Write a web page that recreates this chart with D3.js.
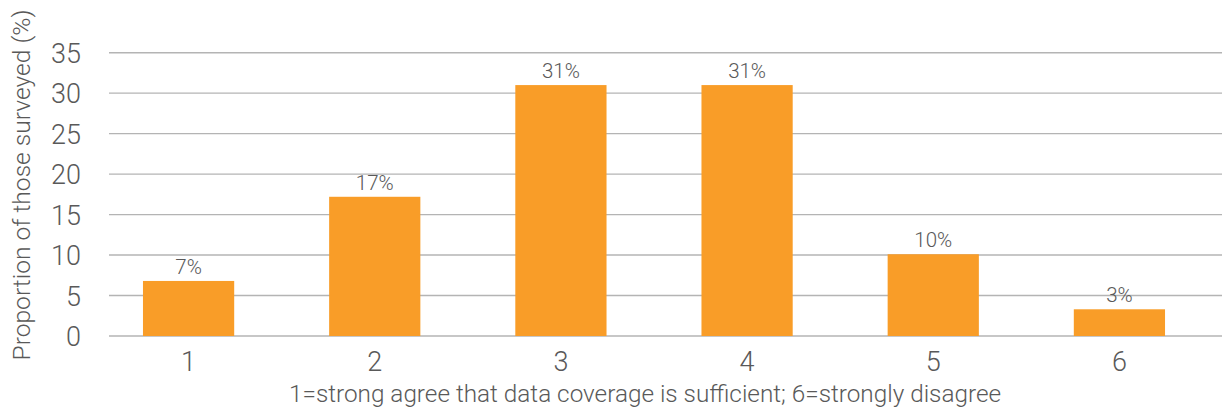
<!DOCTYPE html>
<html>
<head>
<meta charset="utf-8">
<script src="https://cdn.jsdelivr.net/npm/d3@7"></script>
<style>
  html, body { margin: 0; padding: 0; background: #fff; }
  svg { display: block; }
  text { font-family: Roboto, "Noto Sans", sans-serif; font-weight: 300; fill: #595959; }
</style>
</head>
<body>
<svg id="chart" width="1222" height="409"></svg>
<script>
// Survey responses on a 1–6 agreement scale
const categories = ["1", "2", "3", "4", "5", "6"];
const shares = [6.8, 17.2, 31.0, 31.0, 10.1, 3.3];
const yTicks = [0, 5, 10, 15, 20, 25, 30, 35];
const yTitle = "Proportion of those surveyed (%)";
const xTitle = "1=strong agree that data coverage is sufficient; 6=strongly disagree";

const svg = d3.select("#chart");
const W = 1222, H = 409;

const y = d3.scaleLinear().domain([0, 35]).range([336, 52.7]);
const x = d3.scaleBand().domain(categories).range([95.5, 1212.5]).paddingInner(0.51).paddingOuter(0.255);

// horizontal gridlines
svg.append("g")
  .selectAll("line")
  .data(yTicks)
  .join("line")
  .attr("x1", 109).attr("x2", W)
  .attr("y1", d => y(d)).attr("y2", d => y(d))
  .attr("stroke", "#b4b4b4").attr("stroke-width", 1.4);

// y tick labels
const yAxis = d3.axisLeft(y).tickValues(yTicks).tickSize(0).tickPadding(0);
svg.append("g")
  .attr("transform", "translate(81,0)")
  .call(yAxis)
  .call(g => g.select(".domain").remove())
  .selectAll("text")
  .attr("font-size", 27)
  .attr("dy", "0.36em")
  .style("font-family", "Roboto, sans-serif")
  .style("font-weight", 300)
  .attr("fill", "#595959");

// x tick labels
const xAxis = d3.axisBottom(x).tickSize(0).tickPadding(0);
svg.append("g")
  .attr("transform", "translate(0,371)")
  .call(xAxis)
  .call(g => g.select(".domain").remove())
  .selectAll("text")
  .attr("font-size", 27)
  .attr("dy", 0)
  .style("font-family", "Roboto, sans-serif")
  .style("font-weight", 300)
  .attr("fill", "#595959");

// bars
svg.append("g")
  .selectAll("rect")
  .data(shares)
  .join("rect")
  .attr("x", (d, i) => x(categories[i]))
  .attr("width", x.bandwidth())
  .attr("y", d => y(d))
  .attr("height", d => y(0) - y(d))
  .attr("fill", "#F99D28");

// value labels
svg.append("g")
  .selectAll("text")
  .data(shares)
  .join("text")
  .attr("x", (d, i) => x(categories[i]) + x.bandwidth() / 2)
  .attr("y", d => y(d) - 7)
  .attr("text-anchor", "middle")
  .attr("font-size", 20.5)
  .attr("fill", "#666666")
  .text(d => d3.format(".0f")(d) + "%");

// axis titles
svg.append("text")
  .attr("x", 645).attr("y", 402)
  .attr("text-anchor", "middle")
  .attr("font-size", 24.3)
  .text(xTitle);

svg.append("text")
  .attr("transform", "translate(30,185) rotate(-90)")
  .attr("text-anchor", "middle")
  .attr("font-size", 24.6)
  .text(yTitle);
</script>
</body>
</html>
